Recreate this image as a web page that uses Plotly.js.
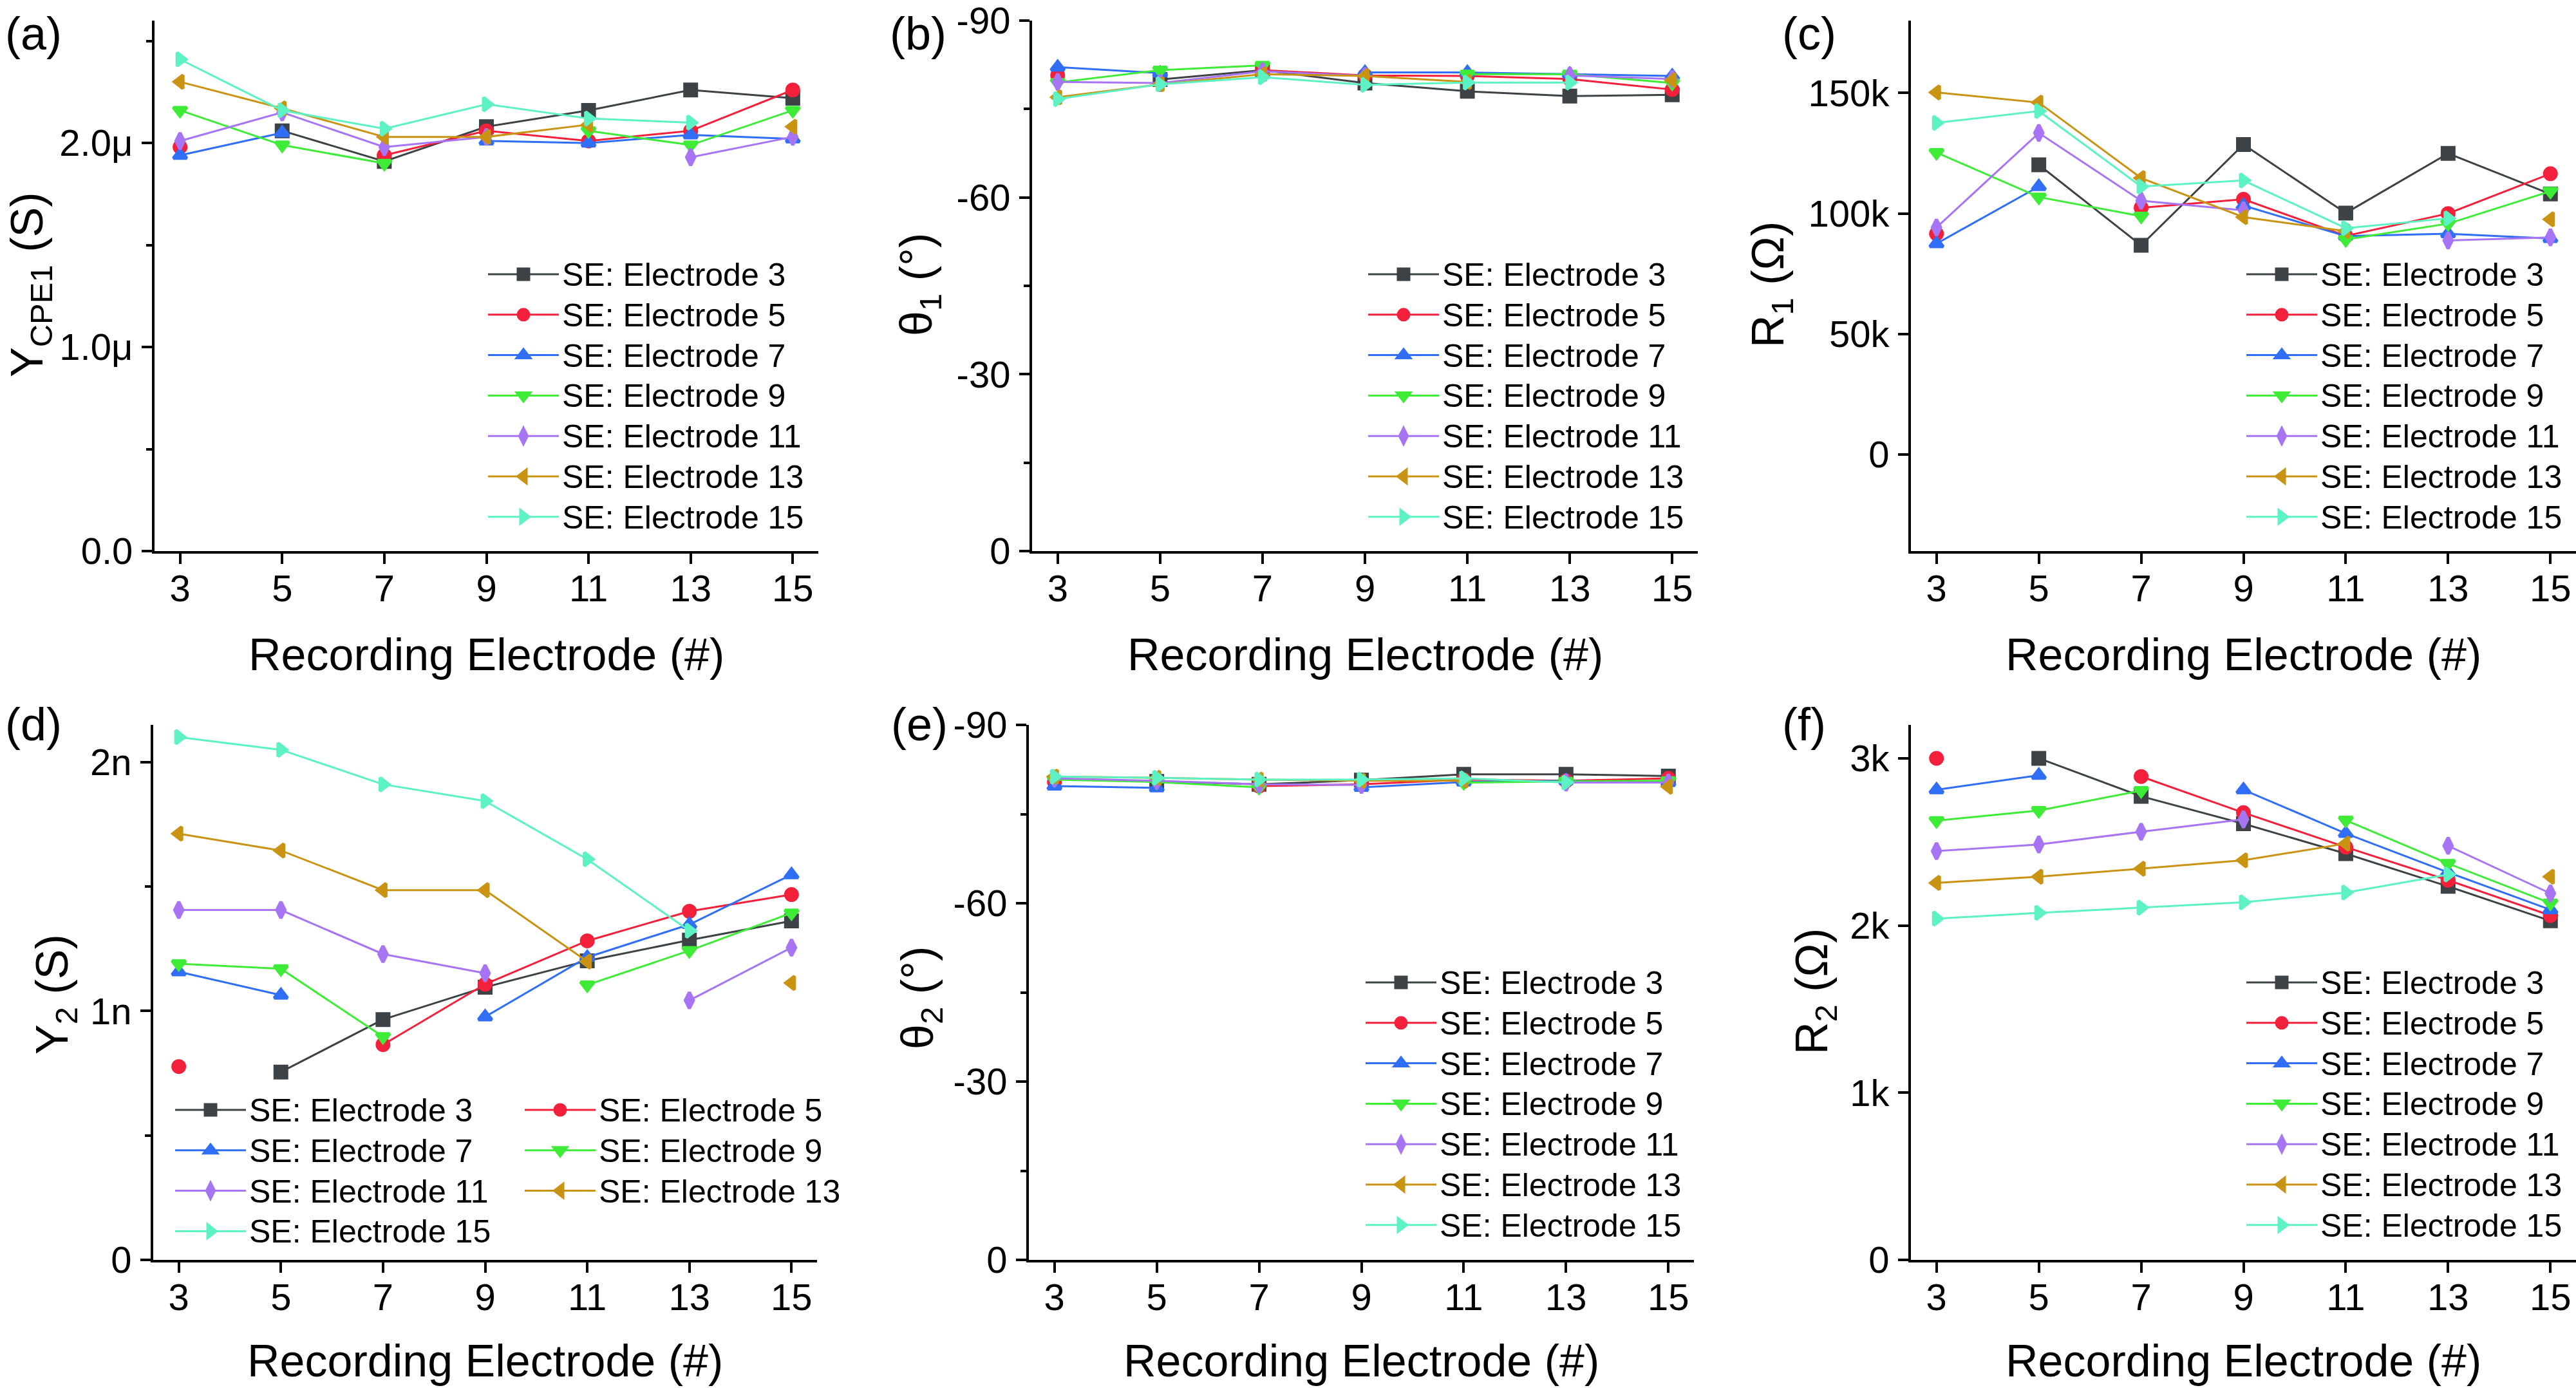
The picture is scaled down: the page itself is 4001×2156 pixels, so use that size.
<!DOCTYPE html>
<html><head><meta charset="utf-8">
<script src="https://cdn.plot.ly/plotly-3.0.1.min.js"></script>
<style>html,body{margin:0;padding:0;background:#fff}#chart{width:4001px;height:2156px}</style>
</head><body><div id="chart"></div>
<script>
// ---------- data ----------
const recording = [3, 5, 7, 9, 11, 13, 15];
const xTickText = ['3', '5', '7', '9', '11', '13', '15'];
const seNames = ['SE: Electrode 3', 'SE: Electrode 5', 'SE: Electrode 7', 'SE: Electrode 9',
                 'SE: Electrode 11', 'SE: Electrode 13', 'SE: Electrode 15'];

// (a) Y_CPE1 (S)
const yCPE1 = [
  [null, 2.06e-6, 1.91e-6, 2.08e-6, 2.16e-6, 2.26e-6, 2.22e-6],
  [1.98e-6, null, 1.94e-6, 2.06e-6, 2.01e-6, 2.06e-6, 2.26e-6],
  [1.94e-6, 2.05e-6, null, 2.01e-6, 2.00e-6, 2.04e-6, 2.02e-6],
  [2.16e-6, 1.99e-6, 1.90e-6, null, 2.06e-6, 1.99e-6, 2.16e-6],
  [2.01e-6, 2.15e-6, 1.98e-6, 2.03e-6, null, 1.93e-6, 2.03e-6],
  [2.30e-6, 2.17e-6, 2.03e-6, 2.03e-6, 2.09e-6, null, 2.08e-6],
  [2.41e-6, 2.16e-6, 2.07e-6, 2.19e-6, 2.12e-6, 2.10e-6, null]
];
// (b) theta_1 (deg)
const theta1 = [
  [null, -80.0, -81.6, -79.4, -78.0, -77.2, -77.4],
  [-80.7, null, -81.6, -80.7, -80.6, -80.1, -78.3],
  [-82.1, -81.1, null, -81.2, -81.2, -80.9, -80.6],
  [-79.5, -81.6, -82.4, null, -80.9, -80.9, -79.4],
  [-79.6, -79.4, -81.4, -80.6, null, -80.7, -80.1],
  [-77.0, -79.2, -80.9, -80.6, -79.6, null, -79.9],
  [-76.7, -79.2, -80.4, -79.1, -79.5, -79.5, null]
];
// (c) R_1 (Ohm)
const r1 = [
  [null, 120200, 86800, 128600, 100200, 124900, 108100],
  [91600, null, 102400, 105900, 90700, 100000, 116500],
  [87500, 111200, null, 103300, 90600, 91600, 89600],
  [125300, 106800, 98900, null, 89200, 95800, 109200],
  [94200, 133400, 105300, 101300, null, 88800, 90100],
  [150200, 146000, 114700, 98500, 92700, null, 97600],
  [137600, 142500, 111200, 113700, 93900, 98000, null]
];
// (d) Y_2 (S)
const y2 = [
  [null, 0.755e-9, 0.966e-9, 1.096e-9, 1.202e-9, 1.285e-9, 1.362e-9],
  [0.777e-9, null, 0.865e-9, 1.108e-9, 1.282e-9, 1.401e-9, 1.468e-9],
  [1.158e-9, 1.064e-9, null, 0.977e-9, 1.216e-9, 1.348e-9, 1.548e-9],
  [1.190e-9, 1.170e-9, 0.897e-9, null, 1.105e-9, 1.243e-9, 1.394e-9],
  [1.406e-9, 1.406e-9, 1.229e-9, 1.152e-9, null, 1.043e-9, 1.255e-9],
  [1.713e-9, 1.645e-9, 1.486e-9, 1.486e-9, 1.199e-9, null, 1.113e-9],
  [2.101e-9, 2.050e-9, 1.911e-9, 1.844e-9, 1.610e-9, 1.323e-9, null]
];
// (e) theta_2 (deg)
const theta2 = [
  [null, -80.5, -80.0, -80.7, -81.7, -81.7, -81.4],
  [-80.4, null, -79.7, -80.0, -80.8, -80.6, -81.0],
  [-79.7, -79.4, null, -79.5, -80.4, -80.6, -80.3],
  [-80.8, -80.4, -79.5, null, -80.3, -80.5, -80.6],
  [-81.0, -80.6, -80.0, -79.9, null, -80.3, -80.3],
  [-81.3, -81.1, -80.8, -80.6, -80.6, null, -79.6],
  [-81.3, -81.1, -80.8, -80.8, -81.0, -80.3, null]
];
// (f) R_2 (Ohm)
const r2 = [
  [null, 3000, 2773, 2609, 2430, 2234, 2028],
  [3000, null, 2891, 2675, 2469, 2271, 2060],
  [2812, 2899, null, 2812, 2551, 2318, 2094],
  [2627, 2688, 2807, null, 2630, 2371, 2134],
  [2445, 2485, 2561, 2635, null, 2477, 2192],
  [2255, 2292, 2340, 2390, 2490, null, 2292],
  [2041, 2076, 2107, 2139, 2197, 2305, null]
];

// tick labels
const tickValsA = [0, 1e-6, 2e-6];          const tickTextA = ['0.0', '1.0μ', '2.0μ'];
const tickValsTheta = [-90, -60, -30, 0];   const tickTextTheta = ['-90', '-60', '-30', '0'];
const tickValsC = [0, 50000, 100000, 150000]; const tickTextC = ['0', '50k', '100k', '150k'];
const tickValsD = [0, 1e-9, 2e-9];          const tickTextD = ['0', '1n', '2n'];
const tickValsF = [0, 1000, 2000, 3000];    const tickTextF = ['0', '1k', '2k', '3k'];

// ---------- styles ----------
const colors = ['#3c4245', '#f2203a', '#2f6ef5', '#3eec38', '#a775f3', '#c99313', '#5df2c3'];
const symbols = ['square', 'circle', 'triangle-up', 'triangle-down', 'diamond-tall', 'triangle-left', 'triangle-right'];
const FONT = 'Liberation Sans, Arial, Helvetica, sans-serif';
const W = 4001, H = 2156;
const ITEMW = 110;

const panels = [
  {data: yCPE1, ax: '', legend: i => 'legend'},
  {data: theta1, ax: '2', legend: i => 'legend2'},
  {data: r1, ax: '3', legend: i => 'legend3'},
  {data: y2, ax: '4', legend: i => (i % 2 === 0 ? 'legend4' : 'legend5')},
  {data: theta2, ax: '5', legend: i => 'legend6'},
  {data: r2, ax: '6', legend: i => 'legend7'}
];

const traces = [];
panels.forEach(p => {
  p.data.forEach((series, i) => {
    traces.push({
      type: 'scatter', mode: 'lines+markers',
      x: recording, y: series,
      name: '<span style="font-size:50px">' + seNames[i] + '</span>',
      xaxis: 'x' + p.ax, yaxis: 'y' + p.ax,
      legend: p.legend(i),
      connectgaps: false,
      line: {color: colors[i], width: 3},
      marker: {color: colors[i], symbol: symbols[i], size: 18, line: {width: 5, color: colors[i]}}
    });
  });
});

function xAxis(domain, anchor) {
  return {
    domain: domain, anchor: anchor, range: [2.5, 15.5],
    tickmode: 'array', tickvals: recording, ticktext: xTickText,
    ticks: 'outside', ticklen: 16, tickwidth: 4, tickcolor: '#000',
    ticklabelstandoff: -12, ticklabeloverflow: 'allow',
    showline: true, linewidth: 4, linecolor: '#000', mirror: false,
    showgrid: false, zeroline: false,
    tickfont: {family: FONT, size: 58, color: '#000'}
  };
}
function yAxis(domain, anchor, range, vals, text, minorDtick) {
  const a = {
    domain: domain, anchor: anchor, range: range,
    tickmode: 'array', tickvals: vals, ticktext: text,
    ticks: 'outside', ticklen: 16, tickwidth: 4, tickcolor: '#000',
    ticklabelstandoff: 2, ticklabeloverflow: 'allow',
    showline: true, linewidth: 4, linecolor: '#000', mirror: false,
    showgrid: false, zeroline: false,
    tickfont: {family: FONT, size: 58, color: '#000'}
  };
  if (minorDtick) {
    a.minor = {tickmode: 'linear', tick0: 0, dtick: minorDtick, ticks: 'outside',
               ticklen: 9, tickwidth: 4, tickcolor: '#000', showgrid: false};
  }
  return a;
}

const xa = [240 / W, 1271 / W], xb = [1603 / W, 2637 / W], xc = [2968 / W, 1];
const xd = [238 / W, 1269 / W], xe = [1598 / W, 2631 / W], xf = [2968 / W, 1];
const topRow = [1 - 856 / H, 1 - 32 / H], botRow = [1 - 1957 / H, 1 - 1126 / H];

function legendAt(textLeftPx, firstRowPx) {
  const xpx = textLeftPx - (ITEMW + 10);
  const ypx = firstRowPx - 36.4;
  return {x: xpx / W, y: 1 - ypx / H, xanchor: 'left', yanchor: 'top',
          itemwidth: ITEMW,
          bgcolor: 'rgba(0,0,0,0)', borderwidth: 0,
          font: {family: FONT, size: 46, color: '#000'}};
}

function label(text, xpx, ypx) {
  return {text: text, xref: 'paper', yref: 'paper', x: xpx / W, y: 1 - ypx / H,
          xanchor: 'left', yanchor: 'middle', showarrow: false,
          font: {family: FONT, size: 72, color: '#000'}};
}
function yTitle(text, xpx, ypx) {
  return {text: text, xref: 'paper', yref: 'paper', x: xpx / W, y: 1 - ypx / H,
          xanchor: 'center', yanchor: 'middle', textangle: -90, showarrow: false,
          font: {family: FONT, size: 70, color: '#000'}};
}
function xTitle(xpx, ypx) {
  return {text: 'Recording Electrode (#)', xref: 'paper', yref: 'paper', x: xpx / W, y: 1 - ypx / H,
          xanchor: 'center', yanchor: 'middle', showarrow: false,
          font: {family: FONT, size: 70, color: '#000'}};
}

const layout = {
  width: W, height: H,
  margin: {l: 0, r: 0, t: 0, b: 0},
  paper_bgcolor: '#fff', plot_bgcolor: '#fff',
  font: {family: FONT, color: '#000'},
  showlegend: true,
  xaxis: xAxis(xa, 'y'),   yaxis: yAxis(topRow, 'x', [0, 2.6e-6], tickValsA, tickTextA, 0.5e-6),
  xaxis2: xAxis(xb, 'y2'), yaxis2: yAxis(topRow, 'x2', [0, -90], tickValsTheta, tickTextTheta, 15),
  xaxis3: xAxis(xc, 'y3'), yaxis3: yAxis(topRow, 'x3', [-40000, 180000], tickValsC, tickTextC, null),
  xaxis4: xAxis(xd, 'y4'), yaxis4: yAxis(botRow, 'x4', [0, 2.15e-9], tickValsD, tickTextD, 0.5e-9),
  xaxis5: xAxis(xe, 'y5'), yaxis5: yAxis(botRow, 'x5', [0, -90], tickValsTheta, tickTextTheta, 15),
  xaxis6: xAxis(xf, 'y6'), yaxis6: yAxis(botRow, 'x6', [0, 3200], tickValsF, tickTextF, null),
  legend: legendAt(873, 426),
  legend2: legendAt(2240, 426),
  legend3: legendAt(3604, 426),
  legend4: legendAt(387, 1724),
  legend5: legendAt(930, 1724),
  legend6: legendAt(2236, 1526),
  legend7: legendAt(3604, 1526),
  annotations: [
    label('(a)', 6, 52), label('(b)', 1380, 52), label('(c)', 2766, 52),
    label('(d)', 6, 1125), label('(e)', 1382, 1125), label('(f)', 2766, 1125),
    yTitle('Y<sub>CPE1</sub> (S)', 47, 443),
    yTitle('θ<sub>1</sub> (°)', 1428, 442),
    yTitle('R<sub>1</sub> (Ω)', 2751, 442),
    yTitle('Y<sub>2</sub> (S)', 86, 1545),
    yTitle('θ<sub>2</sub> (°)', 1430, 1550),
    yTitle('R<sub>2</sub> (Ω)', 2819, 1540),
    xTitle(755, 1017), xTitle(2120, 1017), xTitle(3484, 1017),
    xTitle(753, 2114), xTitle(2114, 2114), xTitle(3484, 2114)
  ]
};

Plotly.newPlot('chart', traces, layout, {staticPlot: true, displayModeBar: false});
</script>
</body></html>
